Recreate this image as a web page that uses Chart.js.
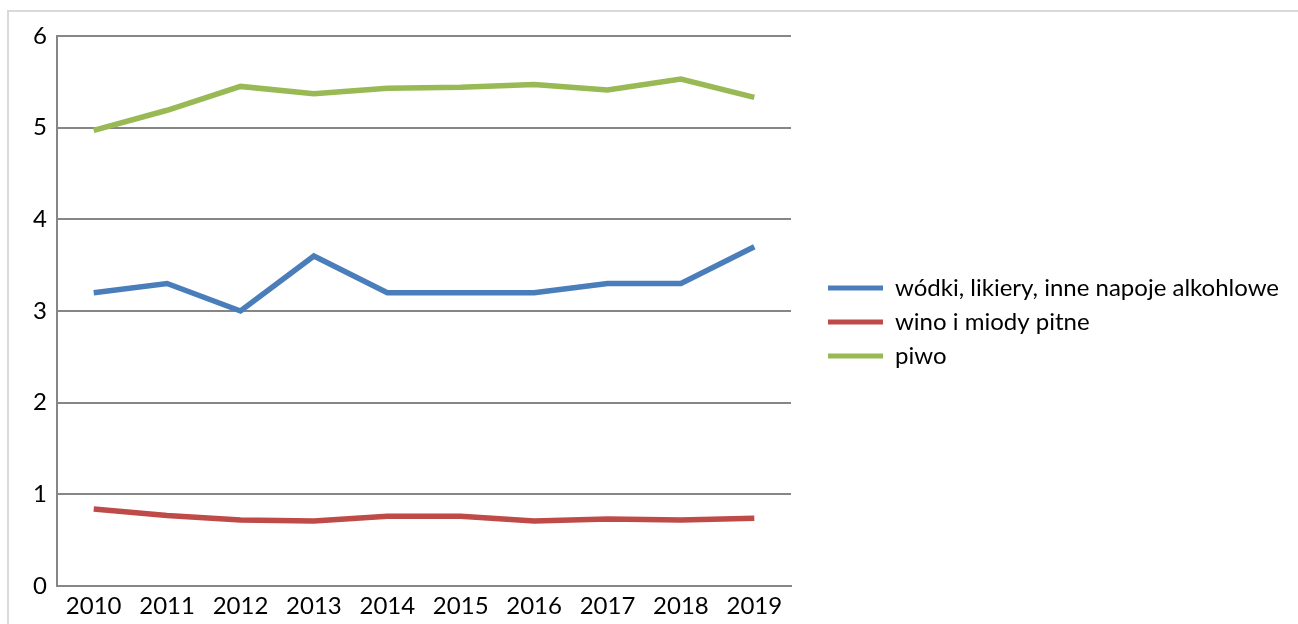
<!DOCTYPE html>
<html>
<head>
<meta charset="utf-8">
<script src="https://cdn.jsdelivr.net/npm/chart.js@4/dist/chart.umd.min.js"></script>
<style>
    html, body { margin: 0; padding: 0; background: #fff; overflow: hidden; }
    #frame {
        position: absolute; left: 7px; top: 10px; width: 1300px; height: 700px;
        border-left: 2px solid #d9d9d9; border-top: 2px solid #d9d9d9;
    }
    #wrap { position: absolute; left: 0; top: 0; width: 1298px; height: 624px; }
</style>
</head>
<body>
<div id="frame"></div>
<div id="wrap"><canvas id="chart"></canvas></div>
<script>
const years = ['2010', '2011', '2012', '2013', '2014', '2015', '2016', '2017', '2018', '2019'];
const wodki = [3.2, 3.3, 3.0, 3.6, 3.2, 3.2, 3.2, 3.3, 3.3, 3.7];
const wino = [0.84, 0.77, 0.72, 0.71, 0.76, 0.76, 0.71, 0.73, 0.72, 0.74];
const piwo = [4.97, 5.19, 5.45, 5.37, 5.43, 5.44, 5.47, 5.41, 5.53, 5.33];
const seriesNames = ['wódki, likiery, inne napoje alkohlowe', 'wino i miody pitne', 'piwo'];

// move the legend a bit away from the plot, like in the original
const legendShift = {
    id: 'legendShift',
    afterLayout: function(chart) {
        const lg = chart.legend;
        lg.left += 27; lg.right += 27;
        lg.top -= 8; lg.bottom -= 8;
    }
};

function drawChart() {
    Chart.defaults.font.family = "Lato, 'Open Sans', sans-serif";
    Chart.defaults.color = '#000';

    const ctx = document.getElementById('chart').getContext('2d');
    const chart = new Chart(ctx, {
        type: 'line',
        data: {
            labels: years,
            datasets: [
                { label: seriesNames[0], data: wodki, borderColor: '#4a7ebb', backgroundColor: '#4a7ebb' },
                { label: seriesNames[1], data: wino, borderColor: '#be4b48', backgroundColor: '#be4b48' },
                { label: seriesNames[2], data: piwo, borderColor: '#98b954', backgroundColor: '#98b954' }
            ]
        },
        options: {
            responsive: true,
            maintainAspectRatio: false,
            animation: false,
            elements: {
                line: { borderWidth: 5.5, tension: 0, borderJoinStyle: 'miter' },
                point: { radius: 0 }
            },
            layout: { padding: { left: 0, top: 36, right: 36, bottom: 0 } },
            plugins: {
                tooltip: { enabled: false },
                legend: {
                    position: 'right',
                    align: 'center',
                    maxWidth: 480,
                    labels: {
                        boxWidth: 55,
                        boxHeight: 5,
                        padding: 10,
                        font: { size: 24 },
                        generateLabels: function(c) {
                            return c.data.datasets.map(function(ds, i) {
                                return {
                                    text: ds.label,
                                    fillStyle: ds.borderColor,
                                    strokeStyle: ds.borderColor,
                                    lineWidth: 0,
                                    datasetIndex: i
                                };
                            });
                        }
                    }
                }
            },
            scales: {
                x: {
                    offset: true,
                    grid: { display: false, drawTicks: false },
                    border: { color: '#868686', width: 2 },
                    ticks: { font: { size: 24 }, padding: 6, maxRotation: 0 },
                    afterFit: function(scale) { scale.height = 38; }
                },
                y: {
                    min: 0,
                    max: 6,
                    grid: { color: '#868686', lineWidth: 2, drawTicks: false },
                    border: { color: '#868686', width: 2 },
                    ticks: { stepSize: 1, font: { size: 24 }, padding: 10 },
                    afterFit: function(scale) { scale.width = 57; }
                }
            }
        },
        plugins: [legendShift]
    });
}

document.fonts.load('24px Lato').then(drawChart, drawChart);
</script>
</body>
</html>
